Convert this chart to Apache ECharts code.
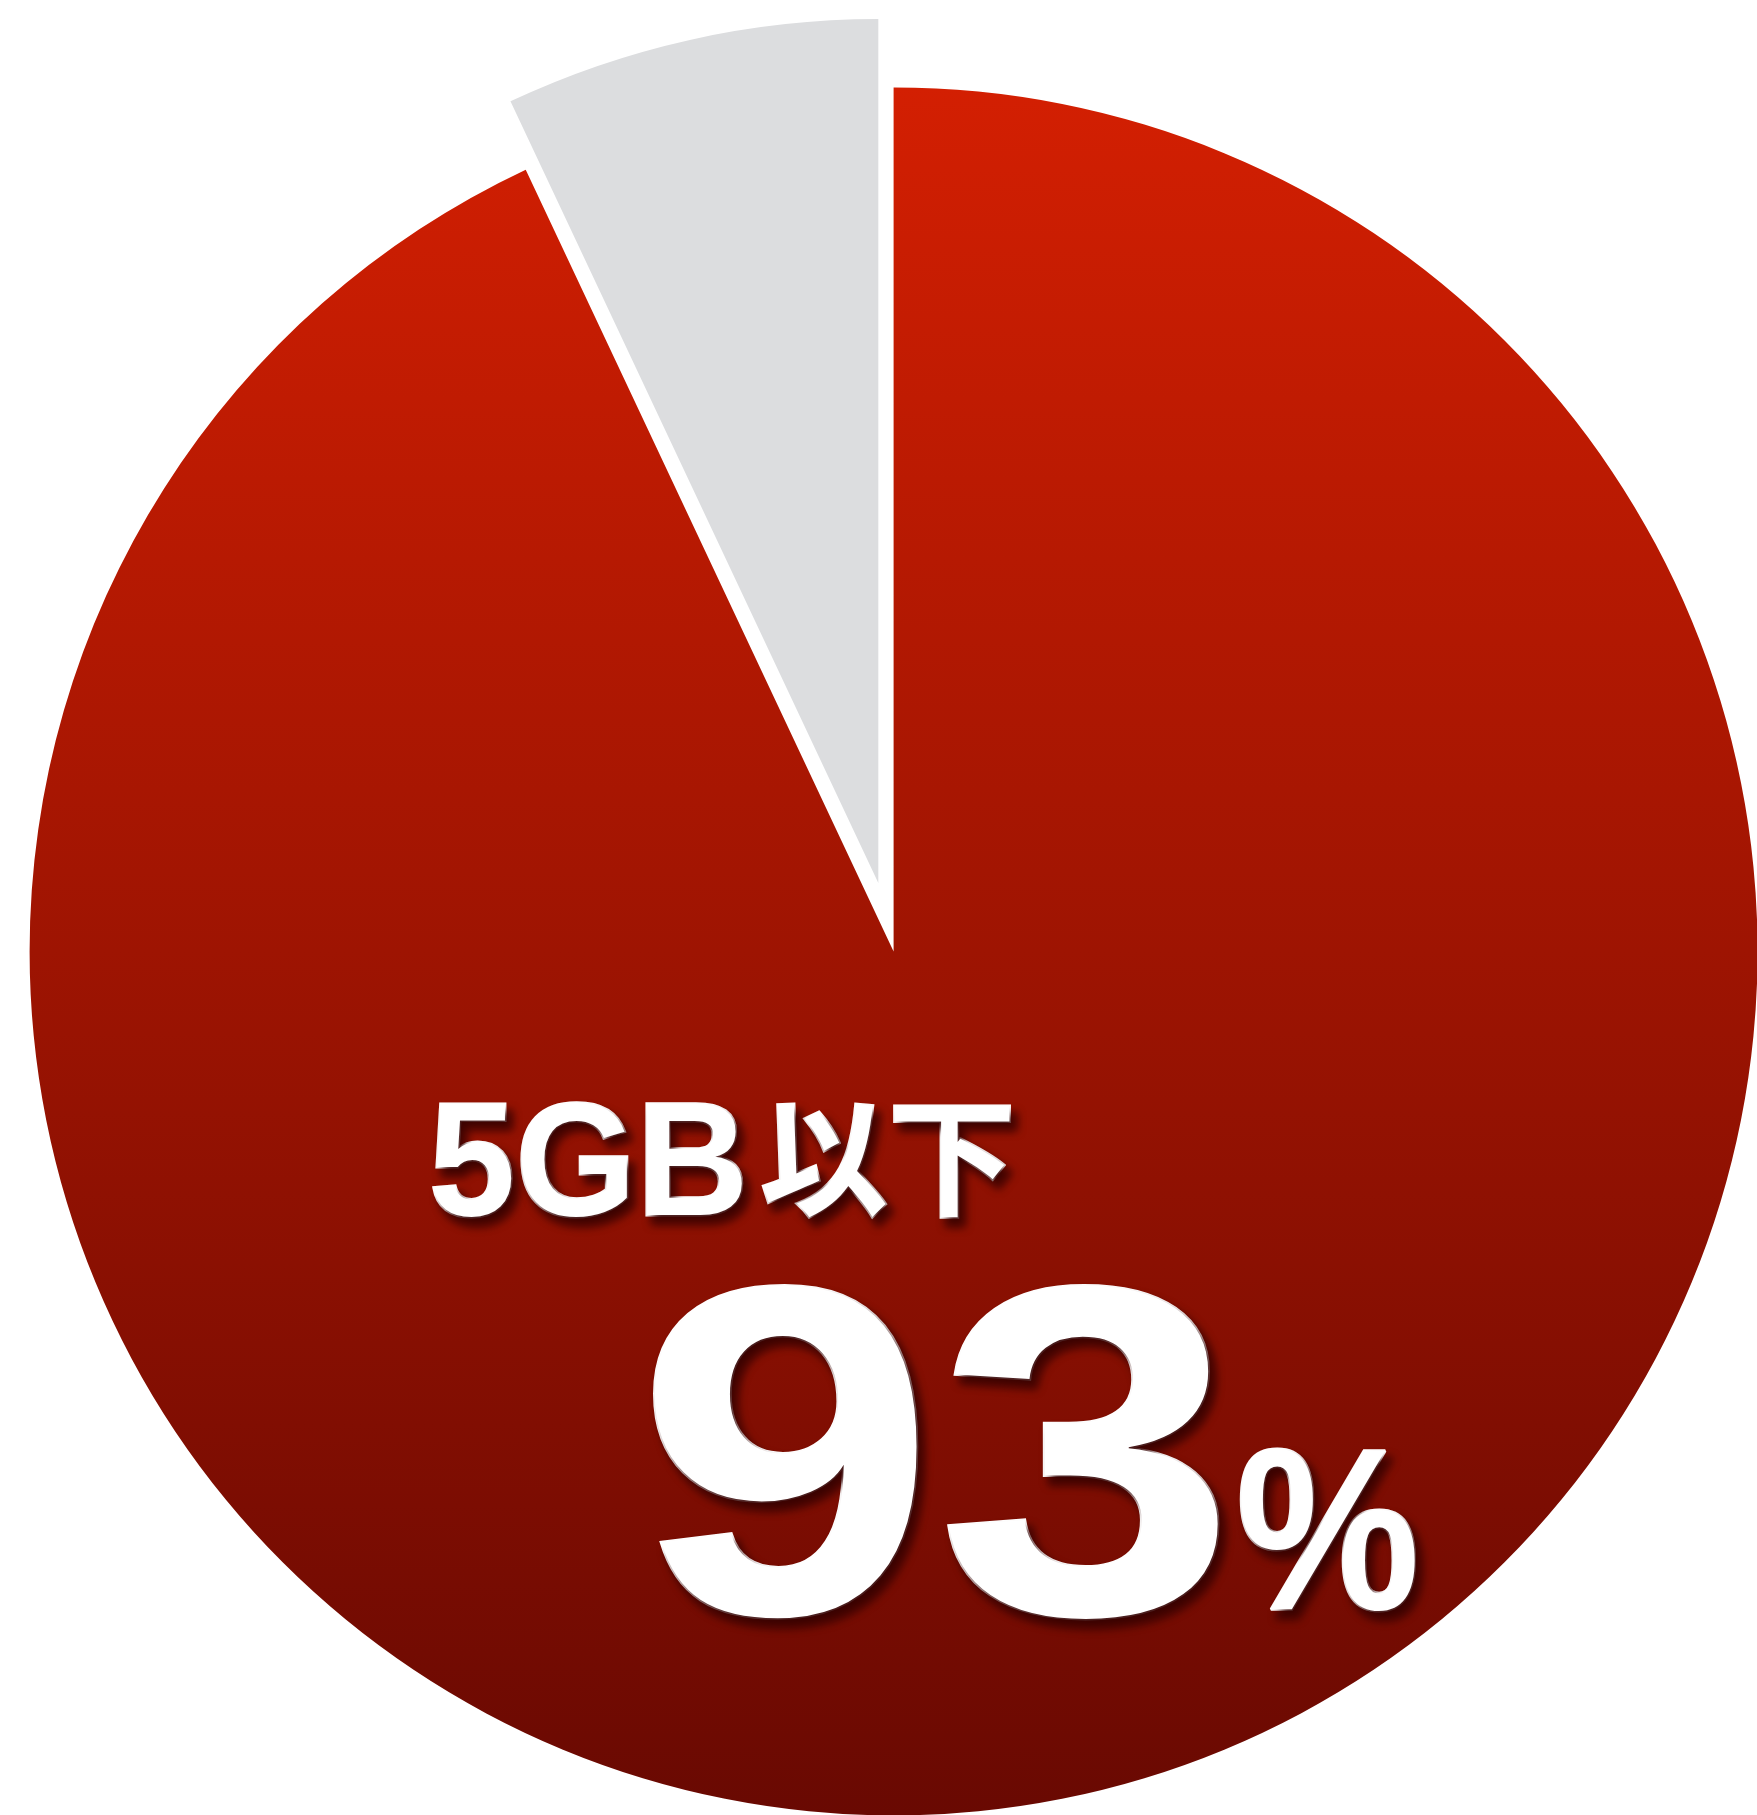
<!DOCTYPE html>
<html>
<head>
<meta charset="utf-8">
<script src="https://cdn.jsdelivr.net/npm/echarts@6/dist/echarts.min.js"></script>
<style>
  html, body { margin: 0; padding: 0; background: #fff; }
  #chart { width: 1757px; height: 1815px; }
</style>
</head>
<body>
<div id="chart"></div>
<script>
// share of users by data usage
var categories = ['5GB以下', '5GB超'];
var values = [93, 7];
var unit = '%';

var chart = echarts.init(document.getElementById('chart'));

var redFill = new echarts.graphic.LinearGradient(0, 0, 0, 1, [
    { offset: 0, color: '#d31f02' },
    { offset: 1, color: '#690902' }
]);

// white text with a dark drop shadow
function label(text, x, y, font, extra) {
    return Object.assign({
        type: 'text',
        z: 100,
        x: x,
        y: y,
        style: {
            text: text,
            fill: '#fff',
            stroke: '#fff',
            lineWidth: 3,
            font: font,
            textAlign: 'left',
            textVerticalAlign: 'middle',
            textShadowColor: 'rgba(50, 0, 0, 0.9)',
            textShadowBlur: 9,
            textShadowOffsetX: 6,
            textShadowOffsetY: 8
        }
    }, extra || {});
}

var latin = '"Liberation Sans", Arial, sans-serif';
var cjk = '"Noto Sans CJK JP", sans-serif';

var option = {
    animation: false,
    series: [{
        type: 'pie',
        center: [893.6, 951.4],
        radius: 864,
        startAngle: 90,
        clockwise: true,
        selectedMode: 'single',
        selectedOffset: 70,
        label: { show: false },
        labelLine: { show: false },
        emphasis: { disabled: true },
        data: [
            { name: categories[0], value: values[0], itemStyle: { color: redFill } },
            { name: categories[1], value: values[1], selected: true, itemStyle: { color: '#dcdddf' } }
        ]
    }],
    graphic: [
        label(categories[0].slice(0, 3), 429, 1170, 'bold 162px ' + latin, { scaleX: 0.96 }),
        label(categories[0].slice(3), 760, 1157, 'bold 128px ' + cjk),
        label(String(values[0]), 636, 1484, 'bold 470px ' + latin, { scaleX: 1.15 }),
        label(unit, 1236, 1546, 'bold 230px ' + latin, { scaleX: 0.9 })
    ]
};

chart.setOption(option);
</script>
</body>
</html>
